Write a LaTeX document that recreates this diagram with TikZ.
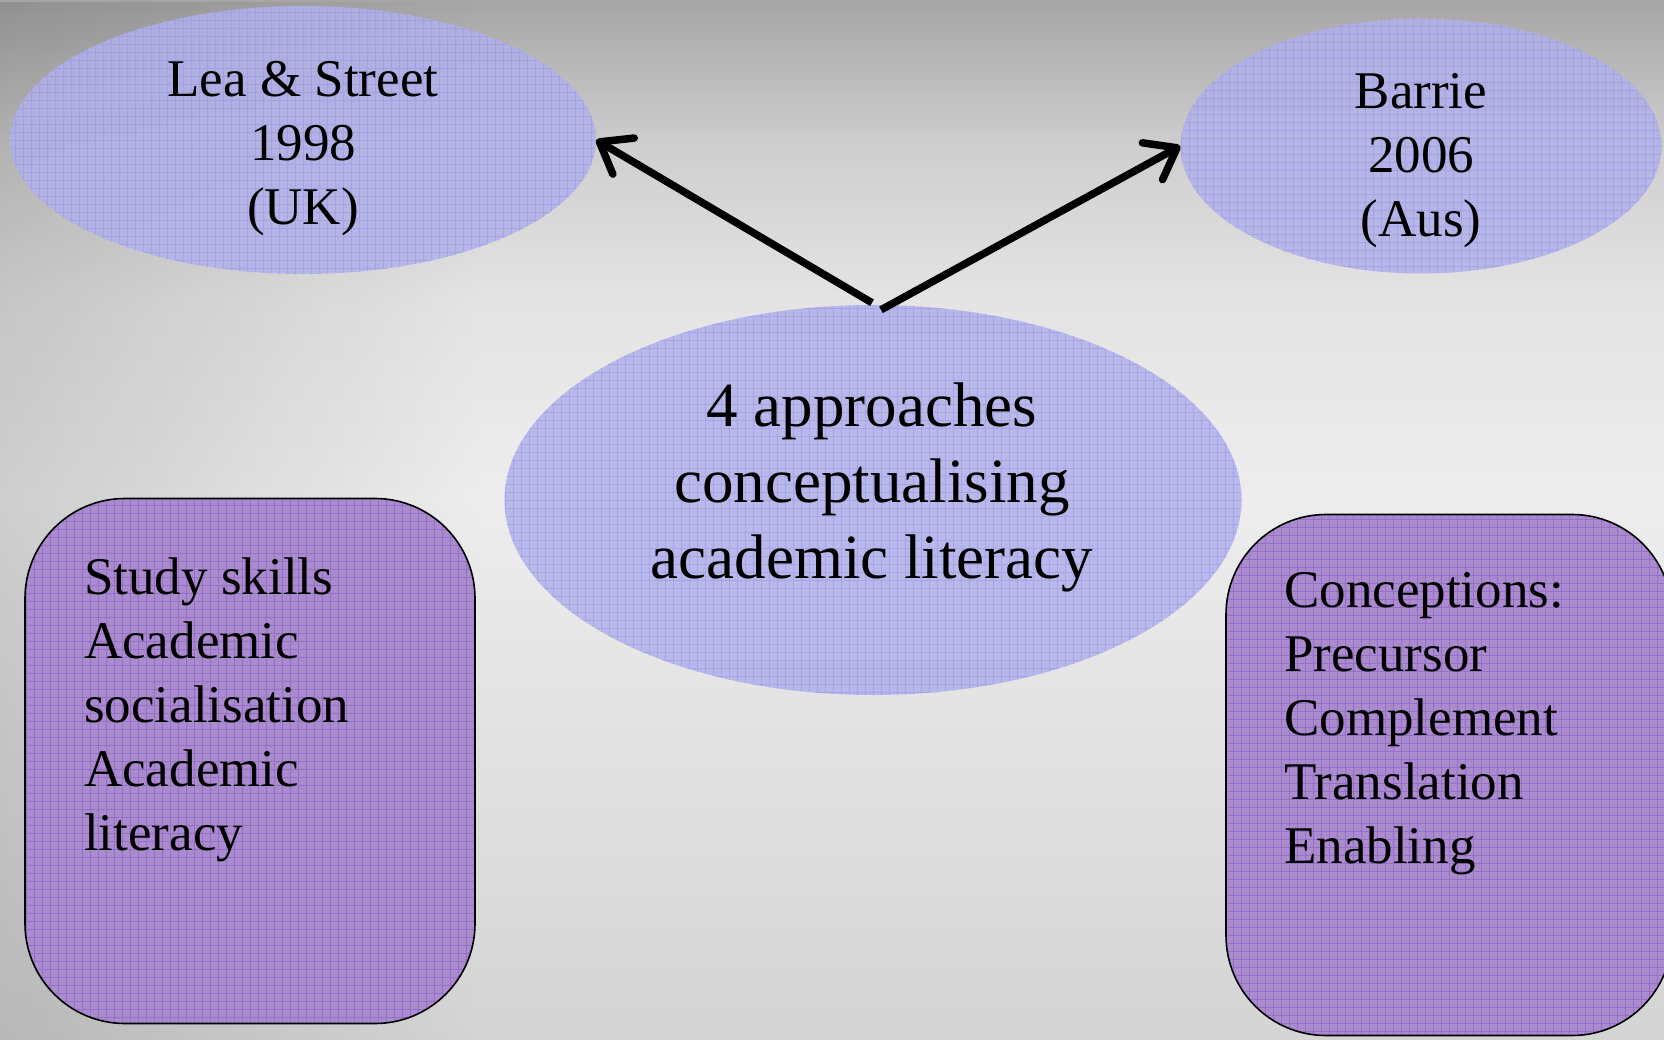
\documentclass[tikz,border=0pt]{standalone}
\usepackage{fontspec}
\setmainfont{Liberation Serif}
\usetikzlibrary{shapes.geometric,arrows.meta,calc,fadings}

\definecolor{ellfill}{RGB}{176,176,234}
\definecolor{ellgrid}{RGB}{150,150,230}
\definecolor{boxfill}{RGB}{170,140,206}
\definecolor{boxgrid}{RGB}{138,92,196}
\definecolor{bgtop}{RGB}{166,166,166}
\definecolor{bgupper}{RGB}{206,206,206}
\definecolor{bglite}{RGB}{228,228,228}
\definecolor{bgmid}{RGB}{237,237,237}
\definecolor{bgbot}{RGB}{212,212,212}

% backdrop: grey band at the top, light centre, slightly darker foot
% (the filled path spans 25bp..75bp of the shading)
\pgfdeclareverticalshading{backdrop}{100bp}{%
  color(0bp)=(bgbot); color(25bp)=(bgbot); color(51bp)=(bgmid);
  color(60.5bp)=(bglite); color(68bp)=(bgupper); color(75bp)=(bgtop);
  color(100bp)=(bgtop)}

\begin{document}
\begin{tikzpicture}[x=1pt,y=-1pt,
  oval/.style={ellipse, inner sep=0pt, fill=ellfill, fill opacity=0.85,
    path picture={\draw[ellgrid, line width=0.6pt, opacity=0.55]
      (path picture bounding box.south west) grid[step=8pt]
      (path picture bounding box.north east);}},
  listbox/.style={rectangle, rounded corners=100pt, inner sep=0pt,
    draw=black, line width=1.6pt, fill=boxfill,
    path picture={\draw[boxgrid, line width=0.8pt, opacity=0.6]
      (path picture bounding box.south west) grid[step=8pt]
      (path picture bounding box.north east);}},
  smalltxt/.style={inner sep=0pt, text=black, font=\fontsize{53}{64}\selectfont},
  bigtxt/.style={inner sep=0pt, text=black, font=\fontsize{63}{76}\selectfont},
  arr/.style={line width=7.5pt, -{Straight Barb[length=28pt,width=42pt,round]}}
]
% background
\useasboundingbox (0,0) rectangle (1664,1040);
\shade[shading=backdrop] (0,0) rectangle (1664,1040);
\fill[black, path fading=east, fill opacity=0.13] (0,0) rectangle (480,1040);

% ovals
\node[oval, minimum width=586pt, minimum height=268pt] (lea) at (303,140) {};
\node[oval, minimum width=481pt, minimum height=255pt] (barrie) at (1421,146) {};
\node[oval, minimum width=737pt, minimum height=390pt] (core) at (873,500) {};

\node[smalltxt, align=center] (leatxt) at (303,149) {Lea \& Street\\1998\\(UK)};
\node[smalltxt, align=center] (barrietxt) at (1421,161) {Barrie\\2006\\(Aus)};
\node[bigtxt, align=center] (coretxt) at (872,487)
  {4 approaches\\conceptualising\\academic literacy};

% rounded boxes
\node[listbox, minimum width=450pt, minimum height=525pt] (left) at (250,761) {};
\node[listbox, minimum width=446pt, minimum height=521pt] (right) at (1449,775) {};

\node[smalltxt, align=left, anchor=west] (lefttxt) at (84,710)
  {Study skills\\Academic\\socialisation\\Academic\\literacy};
\node[smalltxt, align=left, anchor=west] (righttxt) at (1284,724)
  {Conceptions:\\Precursor\\Complement\\Translation\\Enabling};

% arrows
\coordinate (fromL) at ($(core.north)+(-1,-2)$);
\coordinate (fromR) at ($(core.north)+(8,5)$);
\draw[arr] (fromL) -- (lea.east);
\draw[arr] (fromR) -- (barrie.west);
\end{tikzpicture}
\end{document}
